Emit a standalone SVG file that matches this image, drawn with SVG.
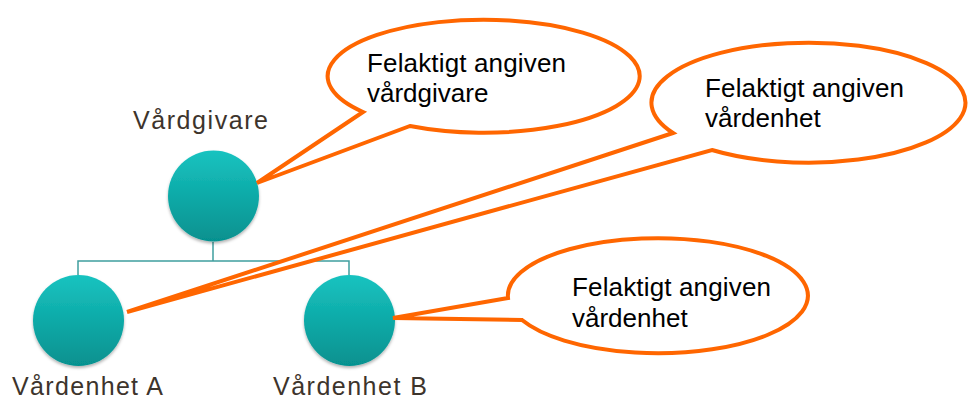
<svg xmlns="http://www.w3.org/2000/svg" width="968" height="399" viewBox="0 0 968 399">
<defs>
<linearGradient id="teal" x1="0" y1="0" x2="0" y2="1">
<stop offset="0" stop-color="#17c3c0"/>
<stop offset="1" stop-color="#06918f"/>
</linearGradient>
<filter id="sh" x="-20%" y="-20%" width="140%" height="140%">
<feDropShadow dx="0" dy="2" stdDeviation="1.5" flood-color="#000" flood-opacity="0.3"/>
</filter>
<style>
.node{fill:url(#teal);filter:url(#sh)}
.lbl{font-family:"Liberation Sans",Arial,sans-serif;font-size:25px;fill:#3d342c}
.tree{stroke:#3f9f9f;stroke-width:1.5;fill:none}
.callout{fill:#fff;stroke:#ff6600;stroke-width:4;stroke-linejoin:miter}
.ct{font-family:"Liberation Sans",Arial,sans-serif;font-size:26px;fill:#000}
</style>
</defs>
<rect width="968" height="399" fill="#fff"/>
<g id="connectors">
<path class="tree" d="M213 242V261M78 275V261H349V275"/>
</g>
<g id="vardgivare">
<circle class="node" cx="213.5" cy="196" r="45.5"/>
<text class="lbl" x="133" y="129" textLength="135">Vårdgivare</text>
</g>
<g id="vardenhetA">
<circle class="node" cx="78.5" cy="320.5" r="45.5"/>
<text class="lbl" x="12" y="395" textLength="151">Vårdenhet A</text>
</g>
<g id="vardenhetB">
<circle class="node" cx="349.5" cy="320.5" r="45.5"/>
<text class="lbl" x="273" y="395" textLength="154">Vårdenhet B</text>
</g>
<g id="callout1">
<path class="callout" d="M363 112L257 183L410 126A156 56.5 0 1 0 363 112Z"/>
<text class="ct" x="367" y="72" textLength="199">Felaktigt angiven</text>
<text class="ct" x="367" y="102">vårdgivare</text>
</g>
<g id="callout2">
<path class="callout" d="M673 133L127 312L712 150A157 60 0 1 0 673 133Z"/>
<text class="ct" x="705" y="97" textLength="199">Felaktigt angiven</text>
<text class="ct" x="705" y="127">vårdenhet</text>
</g>
<g id="callout3">
<path class="callout" d="M508 298L393 318L522 320A150 57.5 0 1 0 508 298Z"/>
<text class="ct" x="572" y="296" textLength="199">Felaktigt angiven</text>
<text class="ct" x="572" y="327">vårdenhet</text>
</g>
</svg>
